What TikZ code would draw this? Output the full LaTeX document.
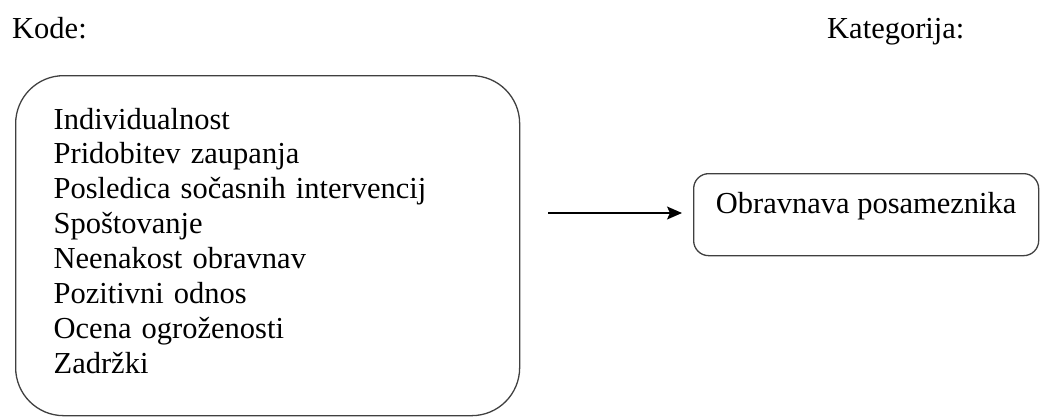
\documentclass[tikz,border=0pt]{standalone}
\usepackage{fontspec}
\setmainfont{Liberation Serif}
\usetikzlibrary{arrows.meta}
\begin{document}
\begin{tikzpicture}[x=1pt,y=-1pt,
  lbl/.style={inner sep=0pt,anchor=base west,font=\fontsize{30.5}{34.9}\selectfont},
  codebox/.style={draw=black!75,line width=1.3pt,rounded corners=48pt,anchor=north west,
    minimum width=504pt,minimum height=340pt,text width=428pt,inner xsep=38pt,inner ysep=0pt,
    align=left,font=\fontsize{30.5}{34.9}\selectfont},
  catbox/.style={draw=black!75,line width=1.3pt,rounded corners=15pt,anchor=north west,
    minimum width=345pt,inner xsep=0pt,inner ysep=0pt,text height=40pt,text depth=42pt,
    font=\fontsize{30.5}{34.9}\selectfont},
  link/.style={line width=1.4pt,-{Stealth[length=15pt,width=13pt,inset=3pt]}}]
\useasboundingbox (0,0) rectangle (1040,416);
\node[lbl] (kode) at (12,38) {Kode:};
\node[lbl] (kat) at (827,38) {Kategorija:};
\node[codebox] (codes) at (15,75) {Individualnost\\
Pridobitev zaupanja\\
Posledica sočasnih intervencij\\
Spoštovanje\\
Neenakost obravnav\\
Pozitivni odnos\\
Ocena ogroženosti\\
Zadržki\rule[-10pt]{0pt}{10pt}};
\node[catbox] (cat) at (693,173) {Obravnava posameznika};
\coordinate (a0) at (548,213);
\draw[link,shorten >=11pt] (a0) -- (cat.west |- a0);
\end{tikzpicture}
\end{document}
